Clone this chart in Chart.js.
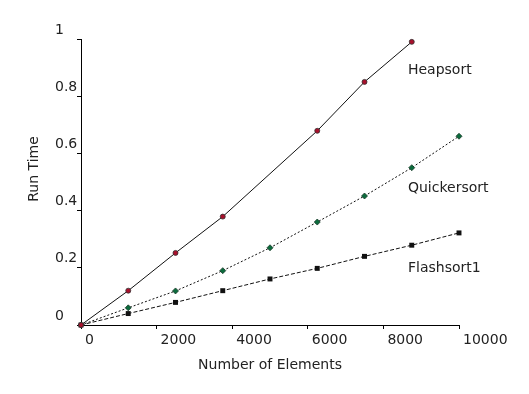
<!DOCTYPE html>
<html>
<head>
<meta charset="utf-8">
<script src="https://cdn.jsdelivr.net/npm/chart.js@4"></script>
<style>
  html, body { margin: 0; padding: 0; background: #fff; }
  #wrap { width: 529px; height: 394px; }
</style>
</head>
<body>
<div id="wrap"><canvas id="grafica"></canvas></div>
<script>
// datos
const elementos = [0, 1250, 2500, 3750, 5000, 6250, 7500, 8750, 10000];
const heapsort = [0, 0.120, 0.252, 0.379, null, 0.679, 0.850, 0.990, null];
const quickersort = [0, 0.060, 0.119, 0.190, 0.270, 0.360, 0.451, 0.550, 0.660];
const flashsort = [0, 0.040, 0.079, 0.120, 0.161, 0.198, 0.240, 0.279, 0.322];
const etiquetas = ['Heapsort', 'Quickersort', 'Flashsort1'];
const posEtiquetas = [[8650, 0.889], [8650, 0.479], [8650, 0.199]];
const ticksX = [0, 2000, 4000, 6000, 8000, 10000];
const ticksY = [0, 0.2, 0.4, 0.6, 0.8, 1];

const fuente = 'DejaVu Sans';

function puntos(serie) {
  const res = [];
  serie.forEach((v, i) => { if (v !== null) res.push({ x: elementos[i], y: v }); });
  return res;
}

// textos dentro del grafico y titulo del eje y
const textos = {
  id: 'textos',
  afterDraw(chart) {
    const c = chart.ctx;
    const sx = chart.scales.x, sy = chart.scales.y;
    c.save();
    c.fillStyle = '#222';
    c.font = '14px "' + fuente + '"';
    c.textAlign = 'left';
    c.textBaseline = 'middle';
    etiquetas.forEach((t, i) => {
      c.fillText(t, sx.getPixelForValue(posEtiquetas[i][0]), sy.getPixelForValue(posEtiquetas[i][1]));
    });
    c.translate(34, 169);
    c.rotate(-Math.PI / 2);
    c.textAlign = 'center';
    c.fillText('Run Time', 0, 0);
    c.restore();
  }
};

new Chart(document.getElementById('grafica'), {
  type: 'line',
  data: {
    datasets: [{
      label: etiquetas[0],
      data: puntos(heapsort),
      borderColor: '#111',
      borderWidth: 1,
      pointRadius: 2.5,
      pointBackgroundColor: '#a8102c',
      pointBorderColor: '#333',
      pointBorderWidth: 0.8,
      clip: false
    }, {
      label: etiquetas[1],
      data: puntos(quickersort),
      borderColor: '#111',
      borderWidth: 1,
      borderDash: [2, 2],
      pointStyle: 'rectRot',
      pointRadius: 3,
      pointBackgroundColor: '#0b6b3c',
      pointBorderColor: '#1a3a2a',
      pointBorderWidth: 0.8,
      clip: false
    }, {
      label: etiquetas[2],
      data: puntos(flashsort),
      borderColor: '#111',
      borderWidth: 1,
      borderDash: [4, 2],
      pointStyle: 'rect',
      pointRadius: 3.5,
      pointBackgroundColor: '#111',
      pointBorderColor: '#111',
      pointBorderWidth: 0,
      clip: false
    }]
  },
  options: {
    responsive: true,
    maintainAspectRatio: false,
    animation: false,
    layout: { padding: { top: 39, right: 70, bottom: 0, left: 55 } },
    plugins: { legend: { display: false }, tooltip: { enabled: false } },
    scales: {
      x: {
        type: 'linear',
        min: 0,
        max: 10000,
        afterBuildTicks: (s) => { s.ticks = ticksX.map(v => ({ value: v })); },
        afterFit: (s) => { s.height = 69; s.paddingLeft = 0; s.paddingRight = 0; },
        border: { color: '#000', width: 1 },
        grid: { drawOnChartArea: false, tickLength: 4, color: '#000' },
        ticks: {
          align: 'start',
          labelOffset: 4,
          padding: 3,
          color: '#222',
          font: { family: fuente, size: 14 },
          maxRotation: 0,
          callback: (v) => String(v)
        },
        title: {
          display: true,
          text: 'Number of Elements',
          color: '#222',
          font: { family: fuente, size: 14 },
          padding: { top: 0, bottom: 20 }
        }
      },
      y: {
        type: 'linear',
        min: 0,
        max: 1,
        afterBuildTicks: (s) => { s.ticks = ticksY.map(v => ({ value: v })); },
        afterFit: (s) => { s.width = 26; s.paddingTop = 0; s.paddingBottom = 0; },
        border: { color: '#000', width: 1 },
        grid: { drawOnChartArea: false, tickLength: 4, color: '#000' },
        ticks: {
          crossAlign: 'far',
          labelOffset: -9,
          padding: 0,
          color: '#222',
          font: { family: fuente, size: 14 },
          callback: (v) => String(Math.round(v * 10) / 10)
        }
      }
    }
  },
  plugins: [textos]
});
</script>
</body>
</html>
